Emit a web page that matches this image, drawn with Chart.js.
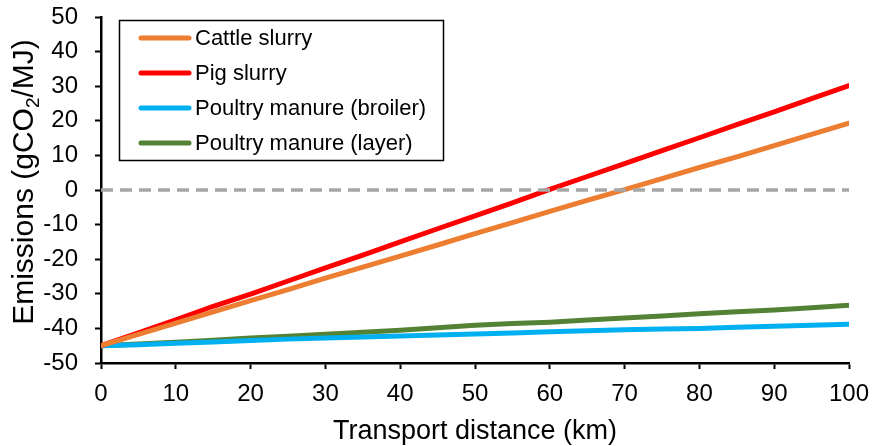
<!DOCTYPE html>
<html>
<head>
<meta charset="utf-8">
<script src="https://cdn.jsdelivr.net/npm/chart.js@4"></script>
<style>
  html, body { margin: 0; padding: 0; background: #fff; }
  #wrap { width: 872px; height: 446px; }
</style>
</head>
<body>
<div id="wrap"><canvas id="emissionsChart" width="872" height="446"></canvas></div>
<script>
const distances = [0, 5, 10, 15, 20, 25, 30, 35, 40, 45, 50, 55, 60, 65, 70, 75, 80, 85, 90, 95, 100];
const cattleSlurry = [-45, -41.7, -38.5, -35.2, -32, -28.8, -25.5, -22.3, -19.1, -15.9, -12.6, -9.4, -6.2, -3, 0.1, 3.3, 6.5, 9.6, 12.8, 16.1, 19.3];
const pigSlurry = [-45, -41.3, -37.5, -33.6, -30.1, -26.3, -22.5, -18.8, -15, -11.2, -7.5, -3.7, 0.2, 3.9, 7.6, 11.4, 15.1, 18.9, 22.6, 26.4, 30.2];
const poultryBroiler = [-45, -44.7, -44.3, -43.9, -43.5, -43.1, -42.8, -42.5, -42.2, -41.9, -41.6, -41.3, -41, -40.7, -40.4, -40.2, -40, -39.7, -39.4, -39.1, -38.8];
const poultryLayer = [-45, -44.5, -44, -43.4, -42.8, -42.3, -41.7, -41.1, -40.5, -39.8, -39.1, -38.6, -38.2, -37.6, -37, -36.4, -35.8, -35.2, -34.7, -34, -33.3];
const zeroLine = [0, 0];
const zeroLineX = [0, 100];

const seriesNames = ['Cattle slurry', 'Pig slurry', 'Poultry manure (broiler)', 'Poultry manure (layer)'];
const seriesColors = ['#ED7D31', '#FF0000', '#00B0F0', '#548235'];
const seriesValues = [cattleSlurry, pigSlurry, poultryBroiler, poultryLayer];

const FONT = "'Liberation Sans', Arial, sans-serif";

const toPoints = vals => vals.map((v, i) => ({ x: distances[i], y: v }));

const datasets = seriesNames.map((name, k) => ({
    label: name,
    data: toPoints(seriesValues[k]),
    borderColor: seriesColors[k],
    backgroundColor: seriesColors[k],
    borderWidth: 5,
    borderCapStyle: 'round',
    borderJoinStyle: 'round',
    pointRadius: 0,
    tension: 0
}));

// dashed zero line goes underneath
datasets.unshift({
    label: 'zero',
    data: zeroLineX.map((x, i) => ({ x: x, y: zeroLine[i] })),
    borderColor: '#A6A6A6',
    borderWidth: 3.5,
    borderDash: [12, 7],
    pointRadius: 0
});

const legendBox = {
    id: 'legendBox',
    afterDraw(chart) {
        const ctx = chart.ctx;
        ctx.save();
        ctx.strokeStyle = '#000';
        ctx.lineWidth = 1.5;
        ctx.strokeRect(119.5, 20.5, 324, 140);
        ctx.font = '22px ' + FONT;
        ctx.textBaseline = 'middle';
        seriesNames.forEach((name, k) => {
            const y = 38 + k * 35;
            ctx.strokeStyle = seriesColors[k];
            ctx.lineWidth = 5;
            ctx.lineCap = 'round';
            ctx.beginPath();
            ctx.moveTo(141, y);
            ctx.lineTo(189, y);
            ctx.stroke();
            ctx.fillStyle = '#000';
            ctx.fillText(name, 195, y + 1);
        });
        ctx.restore();
    }
};

const yTitle = {
    id: 'yTitle',
    afterDraw(chart) {
        const ctx = chart.ctx;
        const parts = [['Emissions (gCO', 30, 0], ['2', 19, 6], ['/MJ)', 30, 0]];
        ctx.save();
        ctx.translate(0, 182);
        ctx.rotate(-Math.PI / 2);
        let total = 0;
        parts.forEach(p => { ctx.font = p[1] + 'px ' + FONT; total += ctx.measureText(p[0]).width; });
        let x = -total / 2;
        ctx.fillStyle = '#000';
        ctx.textBaseline = 'alphabetic';
        parts.forEach(p => {
            ctx.font = p[1] + 'px ' + FONT;
            ctx.fillText(p[0], x, 33 + p[2]);
            x += ctx.measureText(p[0]).width;
        });
        ctx.restore();
    }
};

new Chart(document.getElementById('emissionsChart'), {
    type: 'line',
    data: { datasets: datasets },
    options: {
        responsive: false,
        animation: false,
        layout: { padding: { top: 17, right: 23, left: 0, bottom: 0 } },
        plugins: {
            legend: { display: false },
            tooltip: { enabled: false }
        },
        scales: {
            x: {
                type: 'linear',
                min: 0,
                max: 100,
                ticks: {
                    stepSize: 10,
                    color: '#000',
                    font: { family: FONT, size: 24 },
                    padding: 11,
                    maxRotation: 0
                },
                grid: { drawOnChartArea: false, tickLength: 6, tickColor: '#000', tickWidth: 2 },
                border: { display: true, color: '#000', width: 2.5 },
                title: {
                    display: true,
                    text: 'Transport distance (km)',
                    color: '#000',
                    font: { family: FONT, size: 27 },
                    padding: { top: 0, bottom: -2 }
                },
                afterFit: s => {
                    s.height = 83;
                    s.paddingLeft = 0;
                    s.paddingRight = 0;
                }
            },
            y: {
                min: -50,
                max: 50,
                ticks: {
                    stepSize: 10,
                    color: '#000',
                    font: { family: FONT, size: 24 },
                    padding: 17
                },
                grid: { drawOnChartArea: false, tickLength: 6, tickColor: '#000', tickWidth: 2 },
                border: { display: true, color: '#000', width: 2.5 },
                afterFit: s => {
                    s.width = 101;
                    s.paddingTop = 0;
                    s.paddingBottom = 0;
                }
            }
        }
    },
    plugins: [legendBox, yTitle]
});
</script>
</body>
</html>
